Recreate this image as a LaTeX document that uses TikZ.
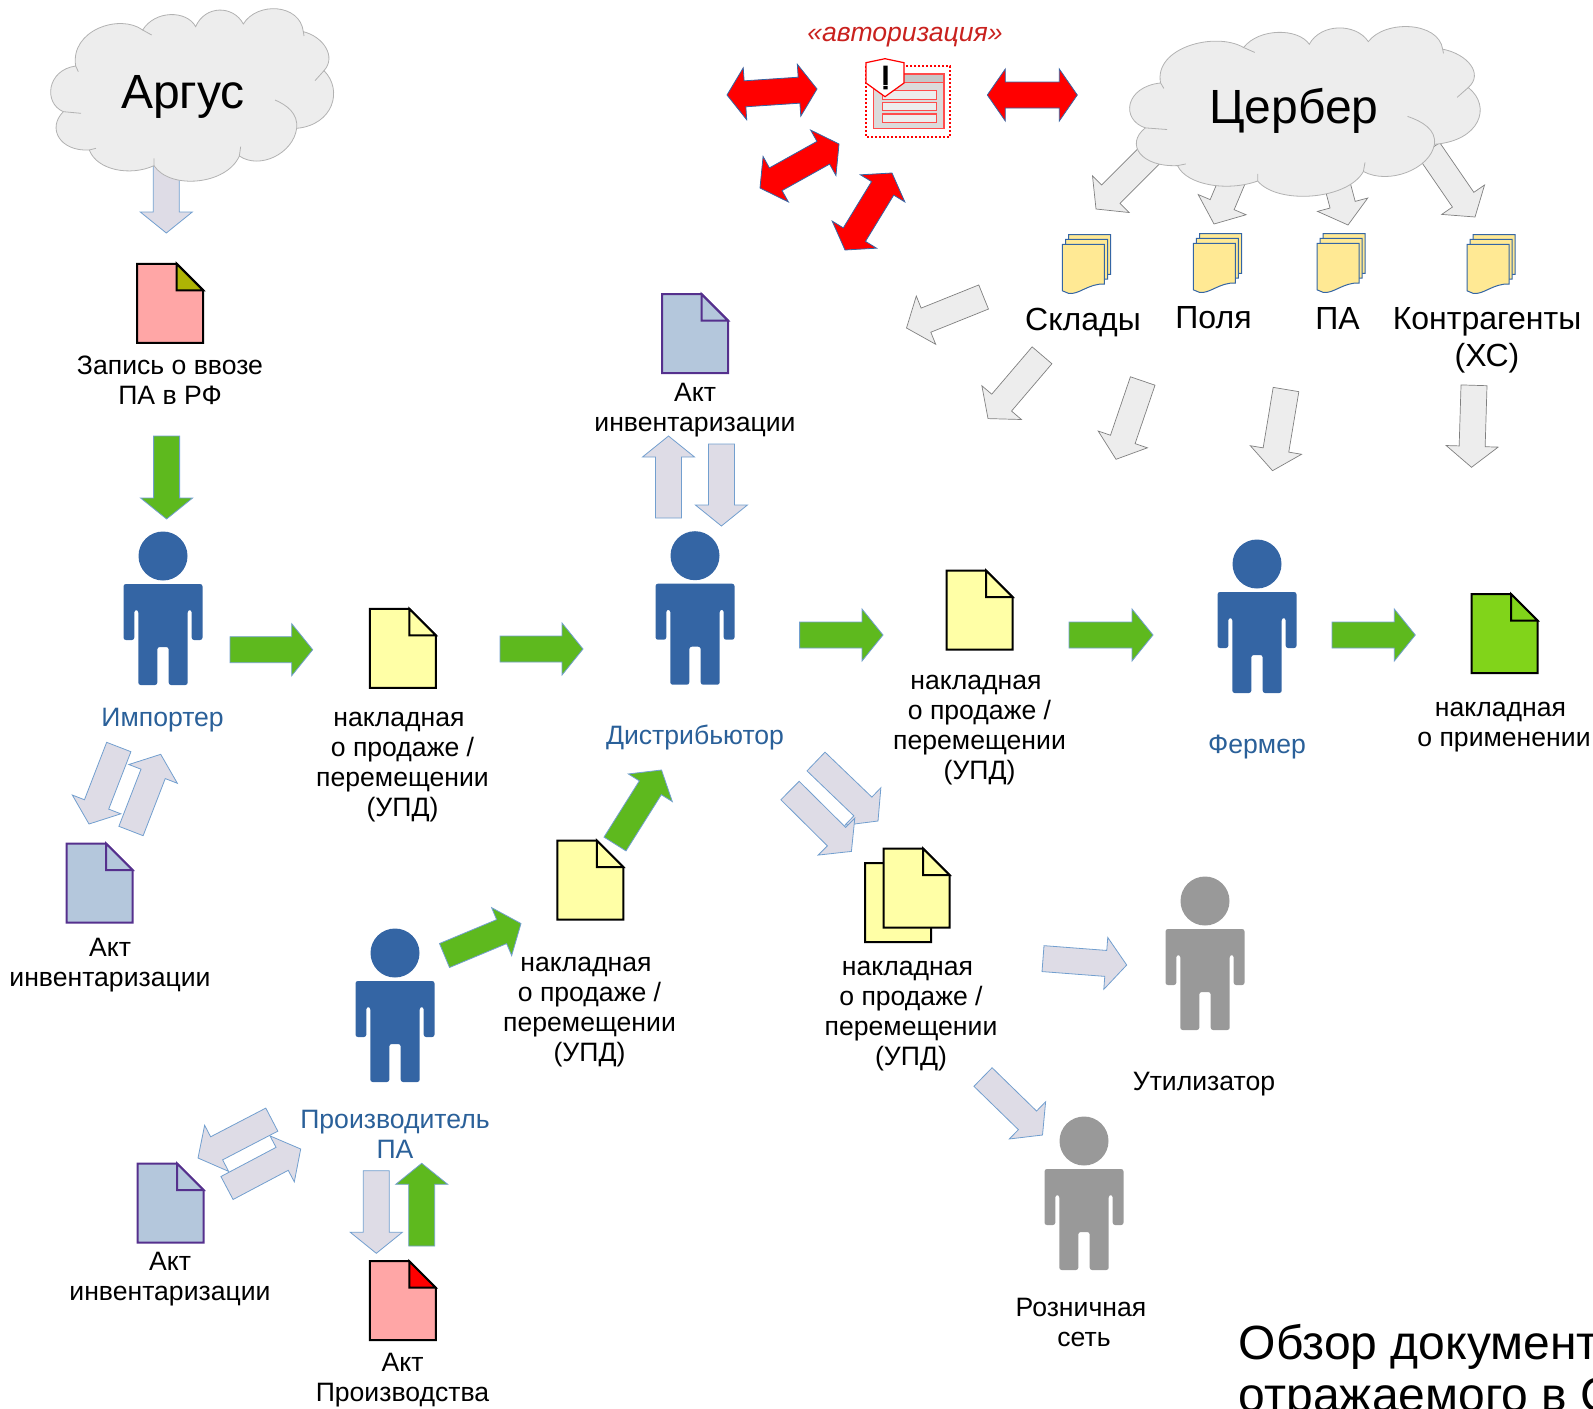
\documentclass[tikz,border=0pt]{standalone}
\usepackage{fontspec}
\setmainfont{Liberation Sans}
\usetikzlibrary{calc}
\definecolor{personblue}{HTML}{3465A4}
\definecolor{labelblue}{HTML}{2A6099}
\definecolor{arrowgreen}{HTML}{5EB91E}
\definecolor{arrowlav}{HTML}{DEDCE6}
\definecolor{edgeblue}{HTML}{729FCF}
\definecolor{authred}{HTML}{C9211E}
\definecolor{aktblue}{HTML}{B4C7DC}
\definecolor{aktline}{HTML}{55308D}
\definecolor{docyellow}{HTML}{FFFFA6}
\definecolor{docpink}{HTML}{FFA6A6}
\definecolor{docolive}{HTML}{AEB404}
\definecolor{docgreen}{HTML}{81D41A}
\definecolor{sheetyellow}{HTML}{FFE994}
\def\shaftw{6.5pt}
\def\headw{13pt}
\def\headlen{10.5pt}
\def\redlen{9pt}
\tikzset{
  greenarrow/.style={draw=edgeblue,fill=arrowgreen,line width=.4pt},
  lavarrow/.style={draw=edgeblue,fill=arrowlav,line width=.4pt},
  greyarrow/.style={draw=gray,fill=black!7,line width=.35pt},
  redarrow/.style={draw=personblue,fill=red,line width=.4pt},
  doctext/.style={align=center,inner sep=0pt,font=\fontsize{13.3}{15}\selectfont},
  persontext/.style={doctext,text=labelblue},
  sheettext/.style={align=center,inner sep=0pt,font=\fontsize{16}{18.4}\selectfont},
  cloudtext/.style={inner sep=0pt,font=\fontsize{24}{28}\selectfont},
  cloudline/.style={draw=black!30,line width=.4pt}
}
% tail, tip
\newcommand{\blockarrow}[4]{
\coordinate (#2-a) at (#3) ;
\coordinate (#2-b) at (#4) ;
\coordinate (#2-n) at ($(#2-b)!\headlen!(#2-a)$) ;
\draw[#1] ($(#2-a)!\shaftw!90:(#2-b)$) -- ($(#2-n)!\shaftw!90:(#2-b)$) -- ($(#2-n)!\headw!90:(#2-b)$) -- (#2-b)
  -- ($(#2-n)!\headw!-90:(#2-b)$) -- ($(#2-n)!\shaftw!-90:(#2-b)$) -- ($(#2-a)!\shaftw!-90:(#2-b)$) -- cycle ;
}
\newcommand{\redarrow}[3]{
\coordinate (#1-a) at (#2) ;
\coordinate (#1-b) at (#3) ;
\coordinate (#1-m) at ($(#1-a)!\redlen!(#1-b)$) ;
\coordinate (#1-n) at ($(#1-b)!\redlen!(#1-a)$) ;
\draw[redarrow] (#1-a) -- ($(#1-m)!\headw!90:(#1-b)$) -- ($(#1-m)!\shaftw!90:(#1-b)$) -- ($(#1-n)!\shaftw!90:(#1-b)$) -- ($(#1-n)!\headw!90:(#1-b)$)
  -- (#1-b) -- ($(#1-n)!\headw!-90:(#1-b)$) -- ($(#1-n)!\shaftw!-90:(#1-b)$) -- ($(#1-m)!\shaftw!-90:(#1-b)$) -- ($(#1-m)!\headw!-90:(#1-b)$) -- cycle ;
}
% corner, paper, fold, line
\newcommand{\docicon}[4]{
\begin{scope}[shift={(#1)},line width=1pt,line join=miter]
\draw[draw=#4,fill=#2] (0.5,0.5) -- (40,0.5) -- (66.5,27) -- (66.5,79.5) -- (0.5,79.5) -- cycle ;
\draw[draw=#4,fill=#3] (40,0.5) -- (40,27) -- (66.5,27) -- cycle ;
\end{scope}
}
% head centre, colour
\newcommand{\person}[2]{
\begin{scope}[shift={(#1)}]
\fill[#2] (0,0) circle (24.5) ;
\fill[#2,rounded corners=1.2pt] (-39.5,28) -- (39.5,28) -- (39.5,84) -- (28.7,84) -- (28.7,54) -- (24.7,54) -- (24.7,129) -- (5.7,129) -- (5.7,91)
  -- (-5.7,91) -- (-5.7,129) -- (-24.7,129) -- (-24.7,54) -- (-28.7,54) -- (-28.7,84) -- (-39.5,84) -- cycle ;
\end{scope}
}
% front sheet corner
\newcommand{\sheets}[1]{
\begin{scope}[shift={(#1)},draw=personblue,fill=sheetyellow,line width=.5pt]
\foreach \dx/\dy in {6.2/-9.7,3.1/-4.9,0/0} {
\filldraw (\dx,\dy) -- (\dx+42,\dy) -- (\dx+42,\dy+39.7) .. controls (\dx+26,\dy+39) and (\dx+16,\dy+51) .. (\dx+6,\dy+49) -- (\dx,\dy+46.5) -- cycle ;
}
\end{scope}
}
% cloud outline, drawn on a 855 x 520 grid
\newcommand{\cloudshape}[1]{
\begin{scope}[#1]
\filldraw[cloudline,fill=black!7] (137,198) .. controls (120,90) and (270,40) .. (338,90)
 .. controls (375,30) and (470,30) .. (497,80)
 .. controls (525,15) and (610,15) .. (640,72)
 .. controls (680,5) and (810,10) .. (820,95)
 .. controls (880,110) and (920,170) .. (882,212)
 .. controls (940,270) and (910,375) .. (800,385)
 .. controls (790,460) and (690,510) .. (628,468)
 .. controls (590,555) and (420,570) .. (372,497)
 .. controls (300,530) and (200,510) .. (178,450)
 .. controls (90,455) and (50,385) .. (100,335)
 .. controls (40,310) and (50,210) .. (137,198) -- cycle ;
\draw[cloudline] (137,198) -- (145,215) (338,90) -- (365,105) (820,95) -- (822,108) (882,212) -- (855,242)
 (800,385) .. controls (805,340) and (770,315) .. (735,300)
 (628,468) -- (632,440) (372,497) -- (372,475) (178,450) -- (198,445) (100,335) -- (153,340) ;
\end{scope}
}
\begin{document}
\begin{tikzpicture}[x=0.5pt,y=-0.5pt]
\useasboundingbox (0,0) rectangle (1593,1408) ;
% arrows out of the clouds
\blockarrow{lavarrow}{argusdown}{166.3,165}{166.3,233}
\blockarrow{greyarrow}{cerbA}{1154,151}{1096,209}
\blockarrow{greyarrow}{cerbB}{1246,148}{1214,224}
\blockarrow{greyarrow}{cerbC}{1327,146}{1348,225}
\blockarrow{greyarrow}{cerbD}{1429,150}{1475,217}
% clouds
\cloudshape{shift={(30,0)},scale=1/3}
\cloudshape{shift={(1104,18)},xscale=0.413,yscale=0.328}
\node[cloudtext] (argus) at (183,97) {Аргус} ;
\node[cloudtext] (cerber) at (1294,111) {Цербер} ;
% authorization
\node[inner sep=0pt,text=authred,font=\fontsize{13.3}{15}\selectfont\itshape] (auth) at (905,37) {«авторизация»} ;
\draw[red,line width=1pt,dash pattern=on 1pt off 1pt] (866,66) rectangle (950,137) ;
\draw[red!70,fill=black!14,line width=.6pt] (873.3,74) rectangle (944,128.7) ;
\draw[red!70,fill=black!22,line width=.6pt] (873.3,74) rectangle (944,82.3) ;
\foreach \fieldy in {90.7,102.3,114} {
\draw[red!70,fill=black!7,line width=.6pt] (882.7,\fieldy) rectangle (936.7,\fieldy+8.4) ;
}
\draw[red,fill=white,line width=.6pt] (866,62.7) -- (885,58.7) -- (904,62.7) -- (904,83) -- (885,96.7) -- (866,83) -- cycle ;
\fill[black] (883.3,65.7) rectangle (887.7,85) (883.3,86) rectangle (887.7,89.3) ;
\redarrow{redA}{727,95}{817,89}
\redarrow{redB}{760,188}{839,144}
\redarrow{redC}{845,250}{892,173}
\redarrow{redD}{987.3,95}{1077.3,95}
% sheets of the registers
\sheets{1062.4,244.3}
\sheets{1193.3,243.3}
\sheets{1317,243.3}
\sheets{1467,244.3}
\node[sheettext] (sklady) at (1083,322.5) {Склады} ;
\node[sheettext] (polya) at (1213.5,318) {Поля} ;
\node[sheettext] (pa) at (1337.5,318) {ПА} ;
\node[sheettext] (contr) at (1487,340) {Контрагенты\\(ХС)} ;
\blockarrow{greyarrow}{regA}{983.6,297}{906.5,328}
\blockarrow{greyarrow}{regB}{1042,355.3}{988,418.6}
\blockarrow{greyarrow}{regC}{1142.7,381}{1116,459.3}
\blockarrow{greyarrow}{regD}{1286,389.5}{1272.5,470.7}
\blockarrow{greyarrow}{regE}{1474,385.3}{1471.5,467.3}
% importer
\docicon{136.7,263.3}{docpink}{docolive}{black}
\node[doctext] (zapis) at (170,380.5) {Запись о ввозе\\ПА в РФ} ;
\blockarrow{greenarrow}{impin}{166.6,436}{166.6,519}
\person{163,556}{personblue}
\node[persontext] (importer) at (162.6,720) {Импортер} ;
\blockarrow{lavarrow}{impakta}{118.8,747}{89,824}
\blockarrow{lavarrow}{impaktb}{131,831}{160.7,754.3}
\docicon{66,843}{aktblue}{aktblue}{aktline}
\node[doctext] (impakt) at (110,964.7) {Акт\\инвентаризации} ;
\blockarrow{greenarrow}{impout}{230,649.7}{312.7,649.7}
\docicon{369.3,608.3}{docyellow}{docyellow}{black}
\node[doctext] (updA) at (402.5,767.5) {накладная\hspace*{3.5pt}\\о продаже /\\перемещении\\(УПД)} ;
% distributor
\blockarrow{greenarrow}{distin}{500,649}{583,649}
\person{695,555.7}{personblue}
\node[persontext] (distrib) at (695,737.6) {Дистрибьютор} ;
\docicon{661.5,293.6}{aktblue}{aktblue}{aktline}
\node[doctext] (distakt) at (695,410) {Акт\\инвентаризации} ;
\blockarrow{lavarrow}{distakta}{668.5,518}{668.5,436}
\blockarrow{lavarrow}{distaktb}{721.4,444}{721.4,526}
\blockarrow{greenarrow}{distout}{799.6,635}{883,635}
\docicon{946,570}{docyellow}{docyellow}{black}
\node[doctext] (updB) at (979.5,730.5) {накладная\hspace*{3.5pt}\\о продаже /\\перемещении\\(УПД)} ;
% farmer
\blockarrow{greenarrow}{farmin}{1069,635}{1153,635}
\person{1257,564}{personblue}
\node[persontext] (farmer) at (1257,746.7) {Фермер} ;
\blockarrow{greenarrow}{farmout}{1332,635}{1415.3,635}
\docicon{1471,593.5}{docgreen}{docgreen}{black}
\node[doctext] (primen) at (1504,727) {накладная\hspace*{3.5pt}\\о применении} ;
% producer
\person{395,953}{personblue}
\node[persontext] (producer) at (395,1134.5) {Производитель\\ПА} ;
\blockarrow{greenarrow}{prodout}{444.5,955.5}{521,923.5}
\docicon{556.8,840}{docyellow}{docyellow}{black}
\node[doctext] (updC) at (589.5,1012) {накладная\hspace*{3.5pt}\\о продаже /\\перемещении\\(УПД)} ;
\blockarrow{greenarrow}{prodist}{615,844}{661.5,770}
\blockarrow{lavarrow}{prodakta}{271.8,1119.6}{198,1158}
\blockarrow{lavarrow}{prodaktb}{227,1188}{300.7,1149}
\docicon{137,1163}{aktblue}{aktblue}{aktline}
\node[doctext] (prodakt) at (170,1279) {Акт\\инвентаризации} ;
\blockarrow{lavarrow}{proddown}{376.3,1170.7}{376.3,1253.3}
\blockarrow{greenarrow}{produp}{421.7,1246}{421.7,1163.3}
\docicon{369.3,1260.7}{docpink}{red}{black}
\node[doctext] (proizv) at (402.5,1380) {Акт\\Производства} ;
% retail and disposal
\blockarrow{lavarrow}{splitA}{816,761.5}{878,821}
\blockarrow{lavarrow}{splitB}{790,790.5}{851.4,851.4}
\docicon{864.6,862.6}{docyellow}{docyellow}{black}
\docicon{883,848}{docyellow}{docyellow}{black}
\node[doctext] (updD) at (911,1016) {накладная\hspace*{3.5pt}\\о продаже /\\перемещении\\(УПД)} ;
\blockarrow{lavarrow}{toutil}{1043,958.6}{1126.7,965}
\person{1205,901}{black!40}
\node[doctext] (util) at (1204,1084) {Утилизатор} ;
\blockarrow{lavarrow}{toretail}{983,1077}{1042.5,1135}
\person{1084,1141}{black!40}
\node[doctext] (retail) at (1084,1322) {Розничная\hspace*{3pt}\\сеть} ;
% title runs off the page
\node[anchor=base west,align=left,inner sep=0pt,font=\fontsize{24}{26}\selectfont] (title) at (1238.5,1411) {Обзор документ\\отражаемого в С} ;
\end{tikzpicture}
\end{document}
